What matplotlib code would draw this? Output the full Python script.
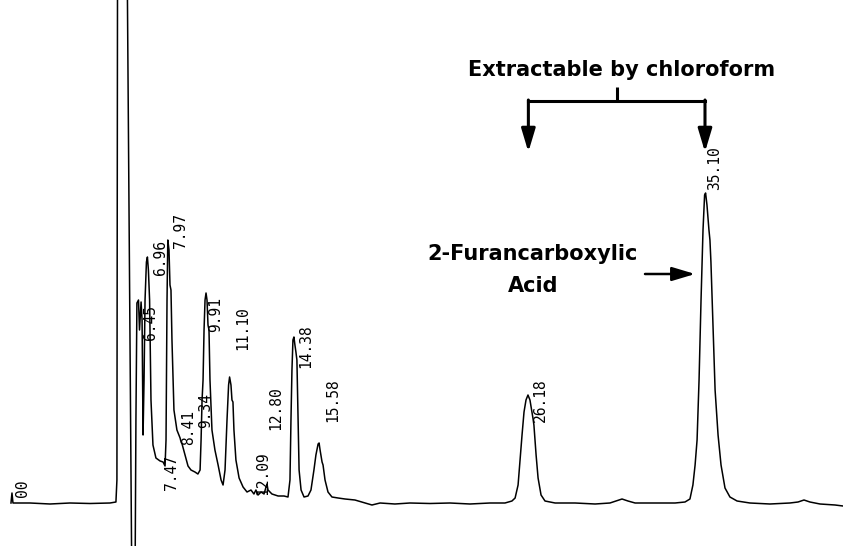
import matplotlib.pyplot as plt

# detector trace (time in min, signal above baseline)
trace_t = [0.05, 0.10, 0.15, 1.01, 2.02, 3.03, 4.04, 5.05, 5.35, 5.40, 5.43, 5.45, 5.91, 6.16, 6.31, 6.36,
           6.41, 6.49, 6.54, 6.62, 6.67, 6.72, 6.77, 6.82, 6.89, 6.94, 6.99, 7.05, 7.12, 7.22, 7.37, 7.58,
           7.73, 7.83, 7.88, 7.93, 7.97, 8.03, 8.08, 8.13, 8.18, 8.28, 8.43, 8.59, 8.64, 8.69, 8.84, 8.99,
           9.14, 9.34, 9.49, 9.60, 9.65, 9.70, 9.75, 9.80, 9.85, 9.90, 9.95, 10.00, 10.05, 10.10, 10.20,
           10.35, 10.51, 10.66, 10.76, 10.86, 10.96, 11.04, 11.09, 11.16, 11.21, 11.26, 11.31, 11.41, 11.57,
           11.77, 11.97, 12.17, 12.32, 12.42, 12.53, 12.68, 12.83, 12.93, 12.98, 13.03, 13.23, 13.54, 13.84,
           14.04, 14.14, 14.19, 14.24, 14.29, 14.34, 14.39, 14.44, 14.49, 14.55, 14.60, 14.70, 14.85, 15.05,
           15.20, 15.35, 15.45, 15.56, 15.61, 15.66, 15.76, 15.81, 15.91, 16.06, 16.26, 16.57, 16.92, 17.42,
           17.93, 18.28, 18.69, 19.44, 20.20, 21.21, 22.22, 23.23, 24.24, 25.00, 25.35, 25.51, 25.66, 25.76,
           25.86, 25.96, 26.06, 26.16, 26.26, 26.36, 26.41, 26.46, 26.57, 26.67, 26.82, 27.02, 27.53, 28.54,
           29.55, 30.30, 30.61, 30.91, 31.21, 31.57, 32.58, 33.59, 34.09, 34.34, 34.49, 34.60, 34.70, 34.80,
           34.90, 35.00, 35.08, 35.13, 35.20, 35.30, 35.35, 35.40, 35.51, 35.61, 35.76, 35.91, 36.11, 36.36,
           36.72, 37.37, 38.38, 39.39, 39.80, 40.10, 40.40, 40.91, 41.67, 42.07]
trace_h = [0, 10, 0, 0, -1, 0, -0.5, 0, 1, 23, 523, 560, 560, -100, -100, 83,
           200, 203, 173, 201, 183, 68, 123, 203, 241, 246, 233, 203, 103, 58, 45, 42,
           41, 37, 63, 203, 263, 253, 218, 213, 163, 93, 73, 65, 61, 59, 48, 37,
           33, 31, 29, 33, 63, 103, 123, 173, 203, 210, 203, 178, 173, 123, 73,
           53, 38, 23, 18, 33, 83, 118, 126, 118, 103, 101, 73, 43, 25,
           16, 11, 13, 9, 13, 8, 11, 9, 16, 19, 13, 9, 7, 7,
           6, 23, 83, 133, 163, 166, 158, 151, 143, 83, 33, 13, 6, 7,
           13, 33, 48, 59, 60, 53, 41, 38, 23, 11, 6, 5, 4, 3,
           0, -2, 0, -1, 0, -0.5, 0, -1, 0, 0, 2, 5, 18, 43,
           68, 91, 103, 108, 103, 91, 85, 78, 48, 25, 8, 2, 0, 0,
           -1, 0, 2, 4, 2, 0, 0, 0, 1, 4, 18, 38, 63, 123,
           203, 273, 308, 310, 298, 273, 263, 241, 173, 113, 68, 38, 15, 6,
           2, 0, -1, 0, 1, 3, 1, -1, -2, -3]

# integrator peak labels and where they were printed
peak_labels = ['00', '6.45', '6.96', '7.47', '7.97', '8.41', '9.34', '9.91', '11.10',
               '12.09', '12.80', '14.38', '15.58', '26.18', '35.10']
label_t = [0.25, 6.72, 7.22, 7.78, 8.23, 8.64, 9.49, 10.00, 11.36, 12.37, 13.03, 14.55, 15.91, 26.41, 35.20]
label_h = [6, 163, 228, 13, 255, 58, 75, 171, 153, 8, 73, 135, 81, 81, 313]

chloroform_peaks = [26.18, 35.10]
acid_peak = 35.10

fig = plt.figure(figsize=(8.43, 5.46), dpi=100)
ax = fig.add_axes([0, 0, 1, 1])
ax.plot(trace_t, trace_h, color='black', lw=1.1)
ax.set_xlim(-0.505, 42.07)
ax.set_ylim(-43, 503)
ax.axis('off')

for lab, t, h in zip(peak_labels, label_t, label_h):
    ax.text(t, h, lab, rotation=90, ha='left', va='bottom', fontsize=10.5,
            family='DejaVu Sans Mono', color='black')

# bracket for the chloroform-extractable peaks
bold = dict(fontsize=15, fontweight='bold', color='black', family='DejaVu Sans')
mid = sum(chloroform_peaks) / 2
ax.text(30.9, 433, 'Extractable by chloroform', ha='center', va='center', **bold)
ax.plot([mid, mid], [402, 416], color='black', lw=2.2, solid_capstyle='butt')
ax.plot(chloroform_peaks, [402, 402], color='black', lw=2.2, solid_capstyle='projecting')
for p in chloroform_peaks:
    ax.annotate('', xy=(p, 351), xytext=(p, 403),
                arrowprops=dict(arrowstyle='-|>,head_length=1.0,head_width=0.3', lw=2.2,
                                color='black', mutation_scale=14, shrinkA=0, shrinkB=0))

ax.text(26.4, 233, '2-Furancarboxylic\nAcid', ha='center', va='center', linespacing=1.75, **bold)
ax.annotate('', xy=(acid_peak - 0.5, 229), xytext=(acid_peak - 3.03, 229),
            arrowprops=dict(arrowstyle='-|>,head_length=1.0,head_width=0.3', lw=1.8,
                            color='black', mutation_scale=14, shrinkA=0, shrinkB=0))

fig.savefig('out.png', dpi=100)
